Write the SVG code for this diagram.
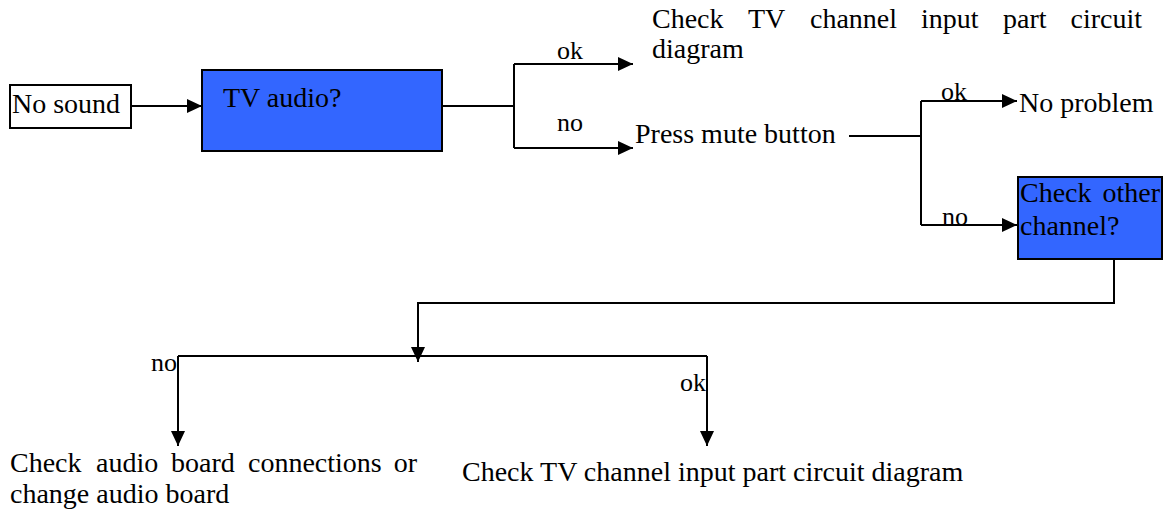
<svg xmlns="http://www.w3.org/2000/svg" width="1170" height="512" viewBox="0 0 1170 512">
<style>
text{font-family:"Liberation Serif","Times New Roman",serif;font-size:28px;fill:#000}
.lbl{font-size:26px}
.box{stroke:#000;stroke-width:2}
.blue{fill:#3366FF}
.white{fill:#fff}
.c{fill:none;stroke:#000;stroke-width:2}
</style>
<defs>
<marker id="ah" markerWidth="15" markerHeight="14" refX="15" refY="7" orient="auto" markerUnits="userSpaceOnUse">
<path d="M0,0 L15,7 L0,14 z" fill="#000"/>
</marker>
</defs>
<rect width="1170" height="512" fill="#fff"/>
<g id="connectors">
<path class="c" d="M131,106 H202" stroke-width="3" marker-end="url(#ah)"/>
<path class="c" d="M442,106 H514 M514,64 V148"/>
<path class="c" d="M514,64 H633" marker-end="url(#ah)"/>
<path class="c" d="M514,148 H633" marker-end="url(#ah)"/>
<path class="c" d="M849,136 H921 M921,101 V225"/>
<path class="c" d="M921,101 H1017" marker-end="url(#ah)"/>
<path class="c" d="M921,225 H1017" marker-end="url(#ah)"/>
<path class="c" d="M1114,259 V303 H418 V362" marker-end="url(#ah)"/>
<path class="c" d="M178,356 H707"/>
<path class="c" d="M178,356 V446" marker-end="url(#ah)"/>
<path class="c" d="M707,356 V446" marker-end="url(#ah)"/>
<text class="lbl" x="557" y="59">ok</text>
<text class="lbl" x="557" y="131">no</text>
<text class="lbl" x="941" y="100">ok</text>
<text class="lbl" x="942" y="225">no</text>
<text class="lbl" x="177" y="371" text-anchor="end">no</text>
<text class="lbl" x="706" y="391" text-anchor="end">ok</text>
</g>
<g id="no-sound">
<rect class="box white" x="10" y="85" width="121" height="43"/>
<text x="12" y="113">No sound</text>
</g>
<g id="tv-audio">
<rect class="box blue" x="202" y="70" width="240" height="81"/>
<text x="223" y="107">TV audio?</text>
</g>
<g id="check-input-top">
<text y="28"><tspan x="652">Check</tspan><tspan x="748">TV</tspan><tspan x="810">channel</tspan><tspan x="921">input</tspan><tspan x="1003">part</tspan><tspan x="1142" text-anchor="end">circuit</tspan></text>
<text x="652" y="58">diagram</text>
</g>
<g id="press-mute">
<text x="635" y="143">Press mute button</text>
</g>
<g id="no-problem">
<text x="1019" y="112">No problem</text>
</g>
<g id="check-other">
<rect class="box blue" x="1018" y="177" width="144" height="82"/>
<text y="202"><tspan x="1020">Check</tspan><tspan x="1160" text-anchor="end">other</tspan></text>
<text x="1020" y="235">channel?</text>
</g>
<g id="check-audio-board">
<text y="472"><tspan x="10">Check</tspan><tspan x="96">audio</tspan><tspan x="171">board</tspan><tspan x="248">connections</tspan><tspan x="417" text-anchor="end">or</tspan></text>
<text x="10" y="503">change audio board</text>
</g>
<g id="check-input-bottom">
<text x="462" y="481">Check TV channel input part circuit diagram</text>
</g>
</svg>
